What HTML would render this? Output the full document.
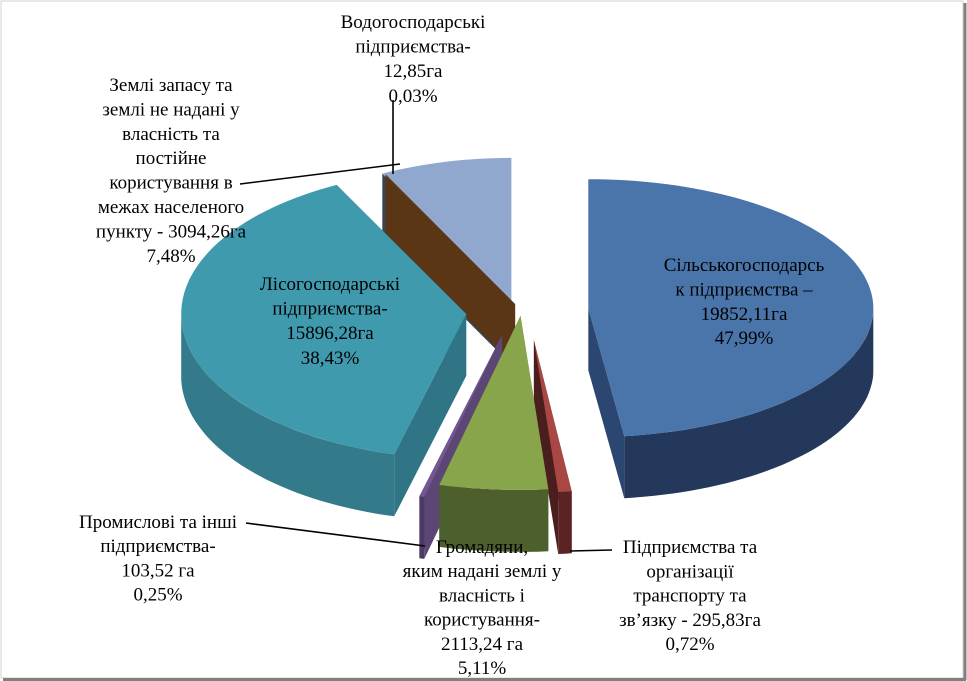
<!DOCTYPE html>
<html><head><meta charset="utf-8">
<style>
html,body{margin:0;padding:0;background:#fff;}
svg{display:block;}
text{font-family:"Liberation Serif",serif;font-size:19px;fill:#000;}
</style></head>
<body>
<svg id="chart" width="967" height="681" viewBox="0 0 967 681" xmlns="http://www.w3.org/2000/svg">
<rect x="1" y="1" width="962" height="677" fill="#fff" stroke="#d0d0d0" stroke-width="1"/>
<line x1="965" y1="3" x2="965" y2="680" stroke="#808080" stroke-width="3"/>
<line x1="3" y1="679.5" x2="966" y2="679.5" stroke="#808080" stroke-width="3"/>
<g id="slices"></g>
<g stroke="#000" stroke-width="1.6" fill="none">
<polyline points="240,184 400,164"/>
<polyline points="393,100 393,174"/>
<polyline points="246,523 425,546"/>
<polyline points="570,551 612,550"/>
</g>
<g id="labels"></g>
</svg>
<script>
const categories = ["Сільськогосподарські підприємства","Підприємства транспорту та зв’язку","Громадяни","Промислові та інші підприємства","Лісогосподарські підприємства","Водогосподарські підприємства","Землі запасу"];
const values = [47.99, 0.72, 5.11, 0.25, 38.43, 0.03, 7.48];
const hectares = ["19852,11","295,83","2113,24","103,52","15896,28","12,85","3094,26"];

const topCol  = ["#4a75aa","#a84744","#88a54c","#715893","#409aae","#7a4a22","#90a7ce"];
const outCol  = ["#23385a","#5a2423","#4c5f2d","#4b3a63","#337b8b","#5a3416","#3a4558"];
const radCol  = ["#2b4670","#4a1e1d","#56692f","#5b4676","#2f7585","#5a3617","#384456"];
const explode = [0.30,0.30,0.20,0.27,0.13,0.10,0.10];
const shiftX  = [0, 22, 22, 18, 0, 25, 15];
const shiftY  = [-1, -15, -25, -15, 0, 5, 5];
const scale   = [1, 1.05, 1.2, 1.15, 1, 1, 1];
const scaleY  = [0.89, 1, 1, 1, 1, 1, 1];
const drawRank = [3, 5, 6, 4, 2, 1, 0];
const names = ["slice-agricultural","slice-transport","slice-citizens","slice-industrial","slice-forestry","slice-water","slice-reserve-lands"];

const cx=503, cy=312, rx=285, ry=145, depth=62;
const svgNS="http://www.w3.org/2000/svg";
const g=document.getElementById('slices');
const total=values.reduce((a,b)=>a+b,0);
function pt(ox,oy,deg,dy,k,ky){const r=deg*Math.PI/180;return [ox+k*rx*Math.sin(r), oy-k*ky*ry*Math.cos(r)+(dy||0)];}
function arcPts(ox,oy,a,b,dy,k,ky){const n=Math.max(2,Math.ceil((b-a)/2));const p=[];for(let i=0;i<=n;i++){p.push(pt(ox,oy,a+(b-a)*i/n,dy,k,ky));}return p;}
function P(pts){return pts.map(p=>p[0].toFixed(1)+','+p[1].toFixed(1)).join(' ');}
function poly(pts,fill,name){const e=document.createElementNS(svgNS,'polygon');e.setAttribute('points',P(pts));e.setAttribute('fill',fill);


return e;}

let acc=0; const sl=[];
values.forEach((v,i)=>{const a=acc/total*360; acc+=v; const b=acc/total*360; const m=(a+b)/2; const r=m*Math.PI/180;
 const ox=cx+explode[i]*rx*Math.sin(r)+shiftX[i], oy=cy-explode[i]*ry*Math.cos(r)+shiftY[i];
 sl.push({i,a,b,m,ox,oy,k:scale[i],ky:scaleY[i],rank:drawRank[i]});});
sl.sort((p,q)=>p.rank-q.rank);
sl.forEach(s=>{
 const grp=document.createElementNS(svgNS,'g');
 
 
 const k=s.k, ky=s.ky, c=[s.ox,s.oy], cb=[s.ox,s.oy+depth];
 [s.a,s.b].forEach(ang=>{const e=pt(s.ox,s.oy,ang,0,k,ky), eb=pt(s.ox,s.oy,ang,depth,k,ky);
   grp.appendChild(poly([c,e,eb,cb],radCol[s.i],names[s.i]+'-radial-wall'));});
 const fa=Math.max(s.a,90), fb=Math.min(s.b,270);
 if(fb>fa){const top=arcPts(s.ox,s.oy,fa,fb,0,k,ky), bot=arcPts(s.ox,s.oy,fa,fb,depth,k,ky).reverse();
   grp.appendChild(poly(top.concat(bot),outCol[s.i],names[s.i]+'-outer-wall'));}
 grp.appendChild(poly([c].concat(arcPts(s.ox,s.oy,s.a,s.b,0,k,ky)),topCol[s.i],names[s.i]+'-top'));
 g.appendChild(grp);
});

const labelBlocks=[
 {name:"label-water",x:413,y:22,lines:["Водогосподарські","підприємства-",hectares[5]+"га",values[5].toFixed(2).replace('.',',')+"%"],sp:24.6},
 {name:"label-reserve-lands",x:171,y:85,lines:["Землі запасу  та","землі не надані у","власність та","постійне","користування в","межах населеного","пункту - "+hectares[6]+"га",values[6].toFixed(2).replace('.',',')+"%"],sp:24.4},
 {name:"label-forestry",x:330,y:284,lines:["Лісогосподарські","підприємства-",hectares[4]+"га",values[4].toFixed(2).replace('.',',')+"%"],sp:24.6},
 {name:"label-agricultural",x:744,y:265,lines:["Сільськогосподарсь","к підприємства –",hectares[0]+"га",values[0].toFixed(2).replace('.',',')+"%"],sp:24.4},
 {name:"label-industrial",x:158,y:522,lines:["Промислові та інші","підприємства-",hectares[3]+" га",values[3].toFixed(2).replace('.',',')+"%"],sp:24.2},
 {name:"label-citizens",x:482,y:547,lines:["Громадяни,","яким надані землі у","власність і","користування-",hectares[2]+" га",values[2].toFixed(2).replace('.',',')+"%"],sp:24.2},
 {name:"label-transport",x:690,y:547,lines:["Підприємства та","організації","транспорту та","зв’язку - "+hectares[1]+"га",values[1].toFixed(2).replace('.',',')+"%"],sp:24.3}
];
const lg=document.getElementById('labels');
labelBlocks.forEach(b=>{
 const t=document.createElementNS(svgNS,'text');
 
 
 t.setAttribute('text-anchor','middle');
 b.lines.forEach((ln,k)=>{const sp=document.createElementNS(svgNS,'tspan');sp.setAttribute('x',b.x);sp.setAttribute('y',b.y+k*b.sp+6);sp.textContent=ln;t.appendChild(sp);});
 lg.appendChild(t);
});
</script>
</body></html>
